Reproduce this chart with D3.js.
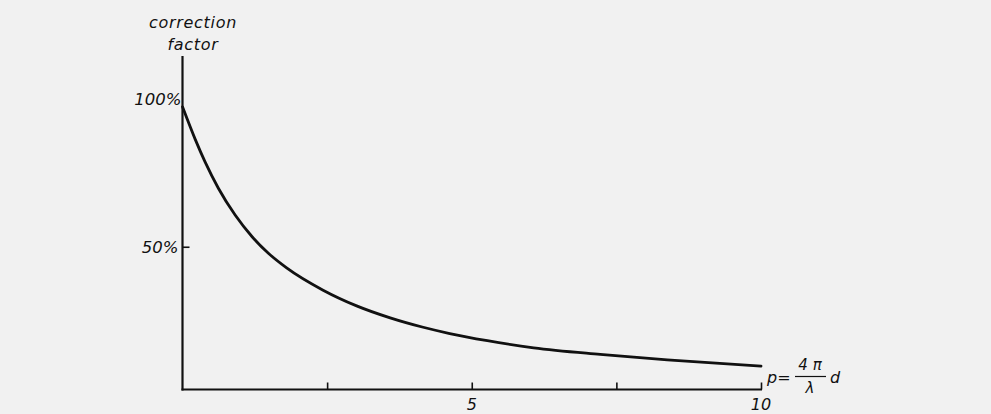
<!DOCTYPE html>
<html>
<head>
<meta charset="utf-8">
<script src="https://cdn.jsdelivr.net/npm/d3@7"></script>
<style>
  html, body { margin: 0; padding: 0; background: #f1f1f1; }
  svg { display: block; }
  text { font-family: "DejaVu Sans", sans-serif; font-style: italic; fill: #111; }
</style>
</head>
<body>
<svg id="chart" width="991" height="414"></svg>
<script>
// ---- data ----
const pValues = [0, 0.22, 0.39, 0.62, 0.91, 1.2, 1.48, 1.8, 2.43, 3.01, 3.59, 4.16, 4.62, 5.27, 6.07, 7.22, 8.38, 10];
const correction = [99, 87.6, 79.7, 70.5, 61.1, 53.6, 47.8, 42.6, 34.8, 29.3, 25.1, 21.8, 19.6, 17.1, 14.6, 12.3, 10.4, 8.2];
const xTicks = [2.5, 5, 7.5, 10];
const xTickLabels = ["", "5", "", "10"];
const yTicks = [50, 100];
const yTickLabels = ["50%", "100%"];
const yAxisTitle = ["correction", "factor"];

const svg = d3.select("#chart");
const x = d3.scaleLinear().domain([0, 10]).range([182.5, 761]);
const y = d3.scaleLinear().domain([0, 100]).range([389.5, 104]);

const ink = "#111";

// y axis line (extends above 100%)
svg.append("line")
  .attr("x1", x(0)).attr("x2", x(0))
  .attr("y1", y(0) + 1).attr("y2", 56)
  .attr("stroke", ink).attr("stroke-width", 2.2);

// x axis line
svg.append("line")
  .attr("x1", x(0) - 1).attr("x2", x(10) + 1)
  .attr("y1", y(0)).attr("y2", y(0))
  .attr("stroke", ink).attr("stroke-width", 2.2);

// x ticks (pointing inward/up)
const xAxis = d3.axisTop(x).tickValues(xTicks).tickSize(7).tickFormat("");
const gx = svg.append("g").attr("transform", `translate(0,${y(0)})`).call(xAxis);
gx.select(".domain").remove();
gx.selectAll(".tick line").attr("stroke", ink).attr("stroke-width", 1.6);

svg.selectAll("text.xlab").data(xTicks).enter().append("text")
  .attr("class", "xlab")
  .attr("x", d => x(d)).attr("y", 410)
  .attr("text-anchor", "middle")
  .attr("font-size", 16)
  .text((d, i) => xTickLabels[i]);

// y ticks (pointing inward/right)
const yAxis = d3.axisRight(y).tickValues([50]).tickSize(7).tickFormat("");
const gy = svg.append("g").attr("transform", `translate(${x(0)},0)`).call(yAxis);
gy.select(".domain").remove();
gy.selectAll(".tick line").attr("stroke", ink).attr("stroke-width", 1.6);

svg.selectAll("text.ylab").data(yTicks).enter().append("text")
  .attr("class", "ylab")
  .attr("x", d => d === 100 ? x(0) - 1 : x(0) - 4)
  .attr("y", d => d === 100 ? y(d) + 1 : y(d) + 6)
  .attr("text-anchor", "end")
  .attr("font-size", 16.5)
  .text((d, i) => yTickLabels[i]);

// axis title
svg.append("text").attr("x", 193).attr("y", 28).attr("text-anchor", "middle")
  .attr("font-size", 16).attr("letter-spacing", 0.7).text(yAxisTitle[0]);
svg.append("text").attr("x", 193).attr("y", 50).attr("text-anchor", "middle")
  .attr("font-size", 16).attr("letter-spacing", 0.7).text(yAxisTitle[1]);

// curve
const line = d3.line()
  .x((d, i) => x(pValues[i]))
  .y(d => y(d))
  .curve(d3.curveMonotoneX);
svg.append("path")
  .datum(correction)
  .attr("d", line)
  .attr("fill", "none")
  .attr("stroke", ink)
  .attr("stroke-width", 2.8)
  .attr("stroke-linecap", "round");

// x-axis formula label: p = (4π/λ) d
const f = svg.append("g");
f.append("text").attr("x", 767).attr("y", 383).attr("font-size", 16).text("p=");
f.append("text").attr("x", 810).attr("y", 370).attr("text-anchor", "middle").attr("font-size", 15).text("4 π");
f.append("line").attr("x1", 795).attr("x2", 826).attr("y1", 376.5).attr("y2", 376.5)
  .attr("stroke", ink).attr("stroke-width", 1.2);
f.append("text").attr("x", 810).attr("y", 393).attr("text-anchor", "middle").attr("font-size", 15).text("λ");
f.append("text").attr("x", 830).attr("y", 383).attr("font-size", 16).text("d");
</script>
</body>
</html>
